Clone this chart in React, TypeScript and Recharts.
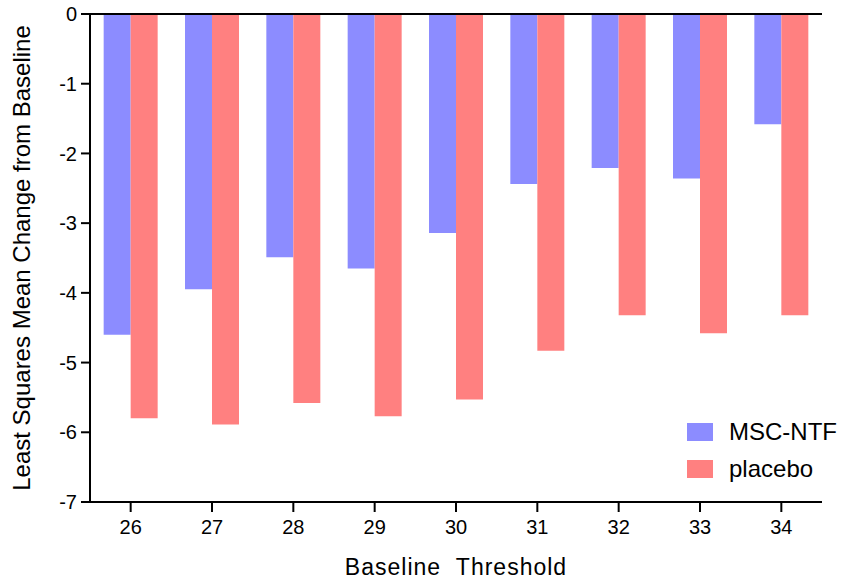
import React from "react";
import { BarChart, Bar, XAxis, YAxis, ReferenceLine } from "recharts";

const categories = ["26", "27", "28", "29", "30", "31", "32", "33", "34"];
const mscNtf = [-4.6, -3.95, -3.49, -3.65, -3.14, -2.44, -2.21, -2.36, -1.58];
const placebo = [-5.8, -5.89, -5.58, -5.77, -5.53, -4.83, -4.32, -4.58, -4.32];
const yTicks = [0, -1, -2, -3, -4, -5, -6, -7];

const data = categories.map((c, i) => ({ cat: c, msc: mscNtf[i], placebo: placebo[i] }));

const FONT = "'Liberation Sans', Arial, Helvetica, sans-serif";
const BLUE = "#8C8CFF";
const RED = "#FF8080";

const legendItems = [
  { label: "MSC-NTF", color: BLUE },
  { label: "placebo", color: RED },
];

export default function App() {
  return (
    <div style={{ position: "absolute", left: 0, top: 0, width: 842, height: 581, background: "#fff" }}>
      <BarChart
        width={842}
        height={581}
        data={data}
        margin={{ top: 14, right: 20, bottom: 0, left: 0 }}
        barGap={0}
        barCategoryGap="16.8%"
      >
        <XAxis
          dataKey="cat"
          height={79}
          tickLine={{ stroke: "#000", strokeWidth: 2 }}
          axisLine={{ stroke: "#000", strokeWidth: 2 }}
          tickSize={10}
          tickMargin={8}
          tick={{ fill: "#000", fontSize: 20, fontFamily: FONT }}
          label={{
            value: "Baseline\u00A0\u00A0Threshold",
            position: "insideBottom",
            offset: 6,
            style: { fill: "#000", fontSize: 23, fontFamily: FONT, letterSpacing: 1 },
          }}
        />
        <YAxis
          width={90}
          domain={[-7, 0]}
          ticks={yTicks}
          interval={0}
          tickLine={{ stroke: "#000", strokeWidth: 2 }}
          axisLine={{ stroke: "#000", strokeWidth: 2 }}
          tickSize={9}
          tickMargin={4}
          tick={{ fill: "#000", fontSize: 20, fontFamily: FONT }}
          label={{
            value: "Least Squares Mean Change from Baseline",
            angle: -90,
            position: "insideLeft",
            offset: 21,
            style: { textAnchor: "middle", fill: "#000", fontSize: 24, fontFamily: FONT },
          }}
        />
        <Bar dataKey="msc" name="MSC-NTF" fill={BLUE} isAnimationActive={false} />
        <Bar dataKey="placebo" name="placebo" fill={RED} isAnimationActive={false} />
        <ReferenceLine y={0} stroke="#000" strokeWidth={2} />
      </BarChart>
      <div
        style={{
          position: "absolute",
          left: 687,
          top: 413,
          fontFamily: FONT,
          fontSize: 24,
          color: "#000",
        }}
      >
        {legendItems.map((it) => (
          <div key={it.label} style={{ display: "flex", alignItems: "center", height: 37 }}>
            <div style={{ width: 26, height: 18, background: it.color, marginRight: 16 }} />
            <span>{it.label}</span>
          </div>
        ))}
      </div>
    </div>
  );
}
